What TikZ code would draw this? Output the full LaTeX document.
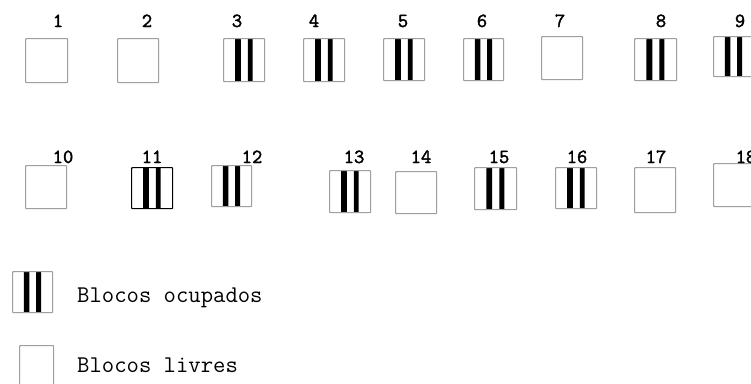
\documentclass[tikz,border=0pt]{standalone}
\usepackage{fontspec}
\newfontfamily\numfont[FakeBold=2]{Latin Modern Mono}
\usetikzlibrary{calc}
\tikzset{
  blk/.style={draw=gray!75, line width=1.2pt, inner sep=0pt, anchor=north west, rounded corners=0.8pt},
  freebox/.style={blk},
  busybox/.style={blk, path picture={
    \fill[black] ($(path picture bounding box.south west)!0.28!(path picture bounding box.south east)$)
      rectangle ($(path picture bounding box.north west)!0.42!(path picture bounding box.north east)$);
    \fill[black] ($(path picture bounding box.south west)!0.59!(path picture bounding box.south east)$)
      rectangle ($(path picture bounding box.north west)!0.71!(path picture bounding box.north east)$);
  }},
  num/.style={font=\numfont\fontsize{20}{20}\selectfont, inner sep=0pt, anchor=base},
  legtext/.style={font=\ttfamily\fontsize{24}{24}\selectfont, inner sep=0pt, anchor=base west},
}
\newcommand{\blkbox}[6]{\node[#1, minimum width=#4pt, minimum height=#5pt] (#6) at (#2,#3) {};}
\begin{document}
\begin{tikzpicture}[x=1pt,y=-1pt]
\useasboundingbox (0,0) rectangle (751,383);
\clip (0,0) rectangle (751,383);
\fill[white] (0,0) rectangle (751,383);
% row 1
\blkbox{freebox}{25}{38}{42}{44}{b1}
\blkbox{freebox}{117}{38}{41}{44}{b2}
\blkbox{busybox}{223}{38}{41}{43}{b3}
\blkbox{busybox}{303}{38}{41}{43}{b4}
\blkbox{busybox}{383}{38}{41}{42}{b5}
\blkbox{busybox}{463}{38}{40}{42}{b6}
\blkbox{freebox}{541}{36}{41}{43}{b7}
\blkbox{busybox}{634}{38}{42}{42}{b8}
\blkbox{busybox}{713}{36}{40}{40}{b9}
% row 2
\blkbox{freebox}{25}{165}{41}{43}{b10}
\blkbox{busybox,draw=black}{131}{167}{41}{41}{b11}
\blkbox{busybox}{211}{165}{40}{41}{b12}
\blkbox{busybox}{329}{170}{41}{42}{b13}
\blkbox{freebox}{395}{171}{41}{42}{b14}
\blkbox{busybox}{474}{167}{42}{42}{b15}
\blkbox{busybox}{555}{167}{41}{41}{b16}
\blkbox{freebox}{634}{167}{41}{45}{b17}
\blkbox{freebox}{713}{163}{42}{43}{b18}
% labels row 1
\node[num] (n1) at (58,27) {1};
\node[num] (n2) at (147,27) {2};
\node[num] (n3) at (237,27) {3};
\node[num] (n4) at (314,27) {4};
\node[num] (n5) at (403,27) {5};
\node[num] (n6) at (482,27) {6};
\node[num] (n7) at (560,27) {7};
\node[num] (n8) at (661,27) {8};
\node[num] (n9) at (740,27) {9};
% labels row 2
\node[num] (n10) at (63,163) {10};
\node[num] (n11) at (152,163) {11};
\node[num] (n12) at (252,163) {12};
\node[num] (n13) at (354,163) {13};
\node[num] (n14) at (421,163) {14};
\node[num] (n15) at (499,163) {15};
\node[num] (n16) at (577,163) {16};
\node[num] (n17) at (656,163) {17};
\node[num] (n18) at (746,163) {18};
% legend
\blkbox{busybox}{12}{271}{40}{41}{lbusy}
\blkbox{freebox}{19}{345}{34}{48}{lfree}
\node[legtext] (t1) at (77,302.5) {Blocos ocupados};
\node[legtext] (t2) at (77,372) {Blocos livres};
\end{tikzpicture}
\end{document}
